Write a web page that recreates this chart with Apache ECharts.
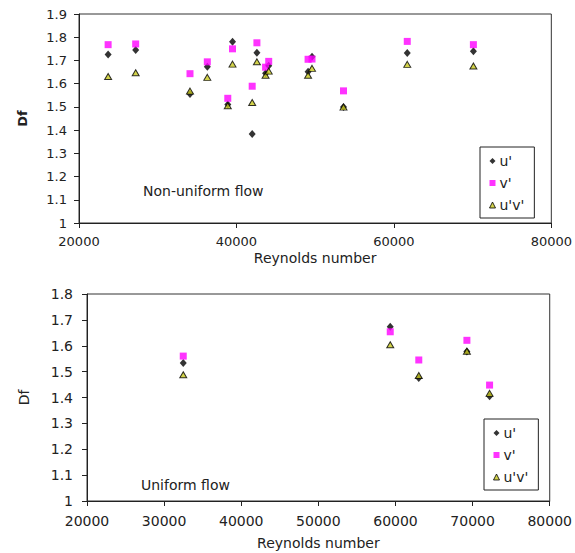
<!DOCTYPE html>
<html>
<head>
<meta charset="utf-8">
<script src="https://cdn.jsdelivr.net/npm/echarts@6/dist/echarts.min.js"></script>
<style>
html,body{margin:0;padding:0;background:#fff;}
#chart{width:575px;height:553px;}
</style>
</head>
<body>
<div id="chart"></div>
<script>
// Top panel: Non-uniform flow
const reTop = [23700, 27200, 34100, 36300, 38900, 39500, 42000, 42600, 43700, 44100, 49100, 49600, 53600, 61700, 70100];
const uTop  = [1.726, 1.745, 1.555, 1.673, 1.51, 1.781, 1.383, 1.733, 1.645, 1.677, 1.651, 1.716, 1.50, 1.732, 1.740];
const vTop  = [1.768, 1.771, 1.643, 1.694, 1.537, 1.750, 1.589, 1.776, 1.671, 1.696, 1.705, 1.706, 1.569, 1.782, 1.768];
const uvTop = [1.631, 1.647, 1.568, 1.627, 1.505, 1.684, 1.519, 1.694, 1.636, 1.654, 1.636, 1.666, 1.499, 1.683, 1.676];

// Bottom panel: Uniform flow
const reBot = [32480, 59320, 63020, 69260, 72200];
const uBot  = [1.533, 1.673, 1.475, 1.578, 1.405];
const vBot  = [1.560, 1.654, 1.545, 1.621, 1.448];
const uvBot = [1.488, 1.604, 1.485, 1.579, 1.416];

const seriesNames = ["u'", "v'", "u'v'"];
const FONT = 'DejaVu Sans';

function pairs(xs, ys){ return xs.map((x,i)=>[x, ys[i]]); }

const styles = [
  {symbol:'diamond', symbolSize:[7,8], itemStyle:{color:'#000', borderColor:'#000', borderWidth:0}},
  {symbol:'rect', symbolSize:7, itemStyle:{color:'#ff00ff', borderWidth:0}},
  {symbol:'triangle', symbolSize:[7,6], itemStyle:{color:'#c8c81e', borderColor:'#000', borderWidth:1}}
];

function makeSeries(gridIdx, data){
  return data.map((d,i)=>Object.assign({
    type:'scatter', name:seriesNames[i], xAxisIndex:gridIdx, yAxisIndex:gridIdx,
    data:d, z: 2+i, emphasis:{disabled:true}
  }, styles[i]));
}

const axisCommon = {
  axisLine:{show:true, onZero:false, lineStyle:{color:'#222', width:1}},
  axisTick:{show:true, inside:false, length:5, lineStyle:{color:'#222'}},
  splitLine:{show:false}
};
const plain = v => String(v);

function legendOf(left, top){
  return {orient:'vertical', left:left, top:top, padding:[7,10,6,9], itemGap:8, itemWidth:6, itemHeight:6,
    borderColor:'#222', borderWidth:1, selectedMode:false,
    data:[
      {name:seriesNames[0], icon:'diamond', itemStyle:{color:'#000', borderWidth:0}},
      {name:seriesNames[1], icon:'rect', itemStyle:{color:'#ff00ff', borderWidth:0}},
      {name:seriesNames[2], icon:'triangle', itemStyle:{color:'#c8c81e', borderColor:'#000', borderWidth:1}}
    ],
    textStyle:{fontFamily:FONT, fontSize:14, color:'#222', padding:[0,0,0,-1]}};
}

const chart = echarts.init(document.getElementById('chart'), null, {renderer:'svg'});
chart.setOption({
  animation:false,
  backgroundColor:'#fff',
  textStyle:{fontFamily:FONT},
  grid:[
    {left:79, top:14, width:474, height:209, show:true, borderColor:'#333', borderWidth:1, backgroundColor:'transparent'},
    {left:87, top:294, width:464, height:207, show:true, borderColor:'#333', borderWidth:1, backgroundColor:'transparent'}
  ],
  title:[
    {text:'Non-uniform flow', left:143, top:184, padding:0, textStyle:{fontFamily:FONT, fontSize:14, fontWeight:'normal', color:'#222'}},
    {text:'Uniform flow', left:141, top:478, padding:0, textStyle:{fontFamily:FONT, fontSize:14, fontWeight:'normal', color:'#222'}}
  ],
  legend:[ legendOf(480, 147), legendOf(484, 419) ],
  xAxis:[
    Object.assign({type:'value', gridIndex:0, min:20000, max:80000, interval:20000,
      name:'Reynolds number', nameLocation:'middle', nameGap:28,
      nameTextStyle:{fontFamily:FONT, fontSize:14, color:'#222'},
      axisLabel:{margin:12, fontFamily:FONT, fontSize:13, color:'#222', formatter:plain}}, axisCommon),
    Object.assign({type:'value', gridIndex:1, min:20000, max:80000, interval:10000,
      name:'Reynolds number', nameLocation:'middle', nameGap:35,
      nameTextStyle:{fontFamily:FONT, fontSize:14, color:'#222'},
      axisLabel:{margin:13, fontFamily:FONT, fontSize:14, color:'#222', formatter:plain}}, axisCommon)
  ],
  yAxis:[
    Object.assign({type:'value', gridIndex:0, min:1, max:1.9, interval:0.1,
      name:'Df', nameLocation:'middle', nameGap:50,
      nameTextStyle:{fontFamily:FONT, fontSize:13, fontWeight:'bold', color:'#222'},
      axisLabel:{margin:12, fontFamily:FONT, fontSize:13, color:'#222'}}, axisCommon),
    Object.assign({type:'value', gridIndex:1, min:1, max:1.8, interval:0.1,
      name:'Df', nameLocation:'middle', nameGap:56,
      nameTextStyle:{fontFamily:FONT, fontSize:14, color:'#222'},
      axisLabel:{margin:14, fontFamily:FONT, fontSize:14, color:'#222'}}, axisCommon)
  ],
  series:[].concat(
    makeSeries(0, [pairs(reTop,uTop), pairs(reTop,vTop), pairs(reTop,uvTop)]),
    makeSeries(1, [pairs(reBot,uBot), pairs(reBot,vBot), pairs(reBot,uvBot)])
  )
});
</script>
</body>
</html>
